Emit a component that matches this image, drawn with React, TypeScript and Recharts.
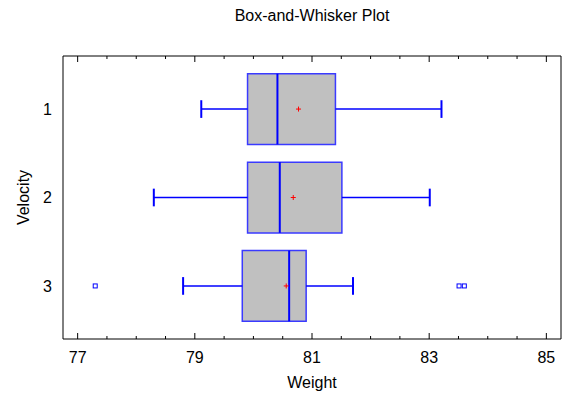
import React from 'react';
import {
  ComposedChart,
  XAxis,
  YAxis,
  Scatter,
  ReferenceArea,
  ReferenceLine,
} from 'recharts';

// ---- data ----
const categories = [1, 2, 3];
const categoryLabels = ['1', '2', '3'];
const lowerWhisker = [79.11, 78.3, 78.8];
const q1 = [79.9, 79.9, 79.81];
const median = [80.41, 80.45, 80.61];
const q3 = [81.4, 81.51, 80.9];
const upperWhisker = [83.21, 83.01, 81.7];
const means = [80.77, 80.68, 80.56];
const outlierCategory = [3, 3, 3];
const outlierValues = [77.3, 83.51, 83.6];
const xTicks = [
  77, 77.5, 78, 78.5, 79, 79.5, 80, 80.5, 81, 81.5, 82, 82.5, 83, 83.5, 84, 84.5, 85,
];
const xMajorTicks = [77, 79, 81, 83, 85];
const xDomain = [76.75, 85.25];
const yDomain = [0.4, 3.6];

const BOX_HALF = 0.4;
const CAP_HALF = 0.1;

const FONT = '"Liberation Sans", Arial, Helvetica, sans-serif';
const BLUE = '#0000ff';

const meanData = categories.map((c, i) => ({ x: means[i], y: c }));
const outlierData = outlierValues.map((v, i) => ({ x: v, y: outlierCategory[i] }));

const BottomTick = (props: any) => {
  const { x, y, payload } = props;
  const major = xMajorTicks.includes(payload.value);
  return (
    <g>
      <line x1={x} x2={x} y1={y} y2={y - (major ? 6 : 3)} stroke="#000" strokeWidth={1} />
      {major && (
        <text x={x} y={y + 24} textAnchor="middle" fontFamily={FONT} fontSize={16} fill="#000">
          {payload.value}
        </text>
      )}
    </g>
  );
};

const TopTick = (props: any) => {
  const { x, y, payload } = props;
  const major = xMajorTicks.includes(payload.value);
  return <line x1={x} x2={x} y1={y} y2={y + (major ? 6 : 3)} stroke="#000" strokeWidth={1} />;
};

const LeftTick = (props: any) => {
  const { x, y, payload } = props;
  const idx = categories.indexOf(payload.value);
  return (
    <text x={x} y={y} dy="0.355em" textAnchor="end" fontFamily={FONT} fontSize={16} fill="#000">
      {categoryLabels[idx]}
    </text>
  );
};

const MeanShape = (props: any) => {
  const { cx, cy } = props;
  return (
    <g>
      <line x1={cx - 2.5} x2={cx + 2.5} y1={cy} y2={cy} stroke="#ff0000" strokeWidth={1} />
      <line x1={cx} x2={cx} y1={cy - 2.5} y2={cy + 2.5} stroke="#ff0000" strokeWidth={1} />
    </g>
  );
};

const OutlierShape = (props: any) => {
  const { cx, cy } = props;
  return <rect x={cx - 2} y={cy - 2} width={4} height={4} fill="#fff" stroke={BLUE} strokeWidth={1} />;
};

export default function App() {
  return (
    <div style={{ position: 'absolute', left: 0, top: 0, width: 574, height: 394, background: '#fff' }}>
      <div
        style={{
          position: 'absolute',
          left: 62,
          width: 500,
          top: 7,
          textAlign: 'center',
          fontFamily: FONT,
          fontSize: 16,
          color: '#000',
        }}
      >
        Box-and-Whisker Plot
      </div>
      <ComposedChart width={574} height={394} margin={{ top: 46, right: 13, bottom: 0, left: 0 }}>
        <XAxis
          type="number"
          dataKey="x"
          domain={xDomain}
          allowDataOverflow
          ticks={xTicks}
          interval={0}
          height={55}
          axisLine={false}
          tickLine={false}
          tickSize={0}
          tickMargin={0}
          tick={<BottomTick />}
          label={{
            value: 'Weight',
            position: 'insideBottom',
            offset: 6,
            fontFamily: FONT,
            fontSize: 16,
            fill: '#000',
          }}
        />
        <XAxis
          xAxisId="top"
          orientation="top"
          type="number"
          dataKey="x"
          domain={xDomain}
          allowDataOverflow
          ticks={xTicks}
          interval={0}
          height={10}
          axisLine={false}
          tickLine={false}
          tickSize={0}
          tickMargin={0}
          tick={<TopTick />}
        />
        <YAxis
          type="number"
          dataKey="y"
          domain={yDomain}
          allowDataOverflow
          reversed
          ticks={categories}
          interval={0}
          width={63}
          axisLine={false}
          tickLine={false}
          tickSize={0}
          tickMargin={11}
          tick={<LeftTick />}
          label={{
            content: (p: any) => {
              const vb = p.viewBox || { x: 0, y: 56, width: 63, height: 283 };
              const cx = 23;
              const cy = vb.y + vb.height / 2;
              return (
                <text
                  x={cx}
                  y={cy}
                  transform={`rotate(-90 ${cx} ${cy})`}
                  textAnchor="middle"
                  dominantBaseline="central"
                  fontFamily={FONT}
                  fontSize={16}
                  fill="#000"
                >
                  Velocity
                </text>
              );
            },
          }}
        />

        {categories.map((c, i) => (
          <ReferenceLine
            key={`wl${i}`}
            segment={[
              { x: lowerWhisker[i], y: c },
              { x: q1[i], y: c },
            ]}
            stroke={BLUE}
            strokeWidth={1.5}
          />
        ))}
        {categories.map((c, i) => (
          <ReferenceLine
            key={`wu${i}`}
            segment={[
              { x: q3[i], y: c },
              { x: upperWhisker[i], y: c },
            ]}
            stroke={BLUE}
            strokeWidth={1.5}
          />
        ))}
        {categories.map((c, i) => (
          <ReferenceLine
            key={`cl${i}`}
            segment={[
              { x: lowerWhisker[i], y: c - CAP_HALF },
              { x: lowerWhisker[i], y: c + CAP_HALF },
            ]}
            stroke={BLUE}
            strokeWidth={2}
          />
        ))}
        {categories.map((c, i) => (
          <ReferenceLine
            key={`cu${i}`}
            segment={[
              { x: upperWhisker[i], y: c - CAP_HALF },
              { x: upperWhisker[i], y: c + CAP_HALF },
            ]}
            stroke={BLUE}
            strokeWidth={2}
          />
        ))}
        {categories.map((c, i) => (
          <ReferenceArea
            key={`box${i}`}
            x1={q1[i]}
            x2={q3[i]}
            y1={c - BOX_HALF}
            y2={c + BOX_HALF}
            fill="#c0c0c0"
            fillOpacity={1}
            stroke="#3a3aff"
            strokeWidth={1.5}
          />
        ))}
        {categories.map((c, i) => (
          <ReferenceLine
            key={`med${i}`}
            segment={[
              { x: median[i], y: c - BOX_HALF },
              { x: median[i], y: c + BOX_HALF },
            ]}
            stroke={BLUE}
            strokeWidth={2}
          />
        ))}
        <ReferenceArea
          x1={xDomain[0]}
          x2={xDomain[1]}
          y1={yDomain[0]}
          y2={yDomain[1]}
          fill="none"
          stroke="#000"
          strokeWidth={1}
        />
        <Scatter data={meanData} shape={<MeanShape />} isAnimationActive={false} />
        <Scatter data={outlierData} shape={<OutlierShape />} isAnimationActive={false} />
      </ComposedChart>
    </div>
  );
}
